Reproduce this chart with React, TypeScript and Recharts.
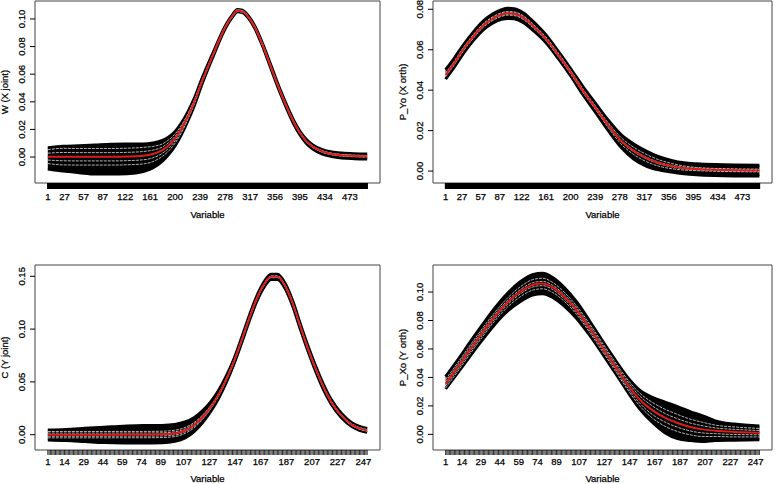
import React from 'react'
import { ComposedChart, Area, Line, XAxis, YAxis, ReferenceArea } from 'recharts'

const FONT = '"Liberation Sans", Arial, Helvetica, sans-serif'
const RED = '#dd1c1c'

// ---- W (X joint): 500 variables ----
const wVars = [1, 25, 50, 75, 100, 125, 150, 165, 180, 190, 200, 210, 220, 230, 240, 250, 260, 270, 280, 290, 297, 305, 315, 325, 335, 345, 355, 365, 375, 385, 395, 405, 415, 430, 445, 460, 480, 500]
const wMean = [0.0003, 0.0003, 0.0002, 0.0002, 0.0002, 0.0004, 0.001, 0.0022, 0.005, 0.0085, 0.0135, 0.0205, 0.0295, 0.04, 0.0525, 0.064, 0.075, 0.086, 0.0955, 0.1025, 0.106, 0.1055, 0.101, 0.0935, 0.083, 0.071, 0.0585, 0.0465, 0.0355, 0.0255, 0.0175, 0.0115, 0.0075, 0.004, 0.0022, 0.0013, 0.0008, 0.0006]
const wBandUp = [0.0065, 0.0075, 0.008, 0.0085, 0.009, 0.009, 0.0085, 0.008, 0.007, 0.006, 0.005, 0.0042, 0.0034, 0.0027, 0.0022, 0.0018, 0.0014, 0.0011, 0.0009, 0.0008, 0.0008, 0.0008, 0.0008, 0.0009, 0.001, 0.0011, 0.0012, 0.0012, 0.0012, 0.0012, 0.0012, 0.0012, 0.0013, 0.0014, 0.0015, 0.0016, 0.0016, 0.0016]
const wBandDn = [0.009, 0.0105, 0.0115, 0.0125, 0.0125, 0.0125, 0.0115, 0.01, 0.008, 0.0065, 0.0052, 0.004, 0.0032, 0.0026, 0.0021, 0.0017, 0.0014, 0.0011, 0.0009, 0.0008, 0.0008, 0.0008, 0.0008, 0.0009, 0.001, 0.0011, 0.0012, 0.0012, 0.0013, 0.0014, 0.0015, 0.0016, 0.0017, 0.0018, 0.0019, 0.002, 0.002, 0.002]
const wCiOuter = [0.005, 0.006, 0.006, 0.006, 0.006, 0.006, 0.006, 0.0055, 0.0045, 0.004, 0.0033, 0.0027, 0.002, 0.0015, 0.001, 0.0006, 0.0006, 0.0006, 0.0006, 0.0006, 0.0006, 0.0006, 0.0006, 0.0006, 0.0006, 0.0006, 0.0006, 0.0006, 0.0006, 0.0006, 0.0006, 0.0006, 0.0006, 0.0006, 0.0006, 0.0006, 0.0006, 0.0006]
const wCiInner = [0.0025, 0.003, 0.003, 0.003, 0.003, 0.003, 0.003, 0.0028, 0.0023, 0.002, 0.0016, 0.0013, 0.001, 0.0008, 0.0005, 0.0004, 0.0004, 0.0004, 0.0004, 0.0004, 0.0004, 0.0004, 0.0004, 0.0004, 0.0004, 0.0004, 0.0004, 0.0004, 0.0004, 0.0004, 0.0004, 0.0004, 0.0004, 0.0004, 0.0004, 0.0004, 0.0004, 0.0004]

// ---- P_Yo (X orth): 500 variables ----
const pyVars = [1, 15, 30, 45, 60, 75, 90, 100, 110, 125, 140, 160, 180, 200, 220, 240, 260, 280, 300, 320, 340, 360, 380, 400, 430, 460, 500]
const pyMean = [0.0475, 0.0535, 0.0605, 0.0665, 0.0717, 0.0752, 0.0774, 0.078, 0.0778, 0.0758, 0.0718, 0.0656, 0.0575, 0.0488, 0.0395, 0.031, 0.0225, 0.015, 0.01, 0.0065, 0.004, 0.0025, 0.0015, 0.001, 0.0006, 0.0004, 0.0003]
const pyBandUp = [0.0026, 0.0024, 0.0022, 0.0022, 0.0022, 0.0023, 0.0024, 0.0025, 0.0025, 0.0024, 0.0022, 0.0019, 0.0018, 0.0018, 0.002, 0.0022, 0.0025, 0.003, 0.0034, 0.0034, 0.0031, 0.0028, 0.0026, 0.0026, 0.0026, 0.0026, 0.0026]
const pyBandDn = [0.002, 0.002, 0.002, 0.002, 0.0021, 0.0022, 0.0024, 0.0025, 0.0025, 0.0024, 0.0022, 0.0019, 0.0018, 0.0018, 0.002, 0.0022, 0.0026, 0.0032, 0.004, 0.004, 0.0034, 0.003, 0.0028, 0.0028, 0.0028, 0.0028, 0.0028]
const pyCiOuter = [0.0009, 0.0009, 0.0009, 0.0009, 0.0009, 0.0009, 0.0009, 0.0009, 0.0009, 0.0009, 0.0009, 0.0009, 0.0009, 0.0009, 0.0009, 0.0009, 0.0012, 0.0016, 0.0018, 0.0018, 0.0016, 0.0013, 0.001, 0.0008, 0.0007, 0.0007, 0.0007]
const pyCiInner = [0.0004, 0.0004, 0.0004, 0.0004, 0.0004, 0.0004, 0.0004, 0.0004, 0.0004, 0.0004, 0.0004, 0.0004, 0.0004, 0.0004, 0.0004, 0.0004, 0.0004, 0.0004, 0.0004, 0.0004, 0.0004, 0.0004, 0.0004, 0.0004, 0.0004, 0.0004, 0.0004]

// ---- C (Y joint): 250 variables ----
const cVars = [1, 15, 30, 45, 60, 75, 90, 100, 108, 115, 122, 128, 134, 140, 146, 152, 158, 164, 170, 175, 180, 186, 192, 198, 204, 210, 216, 222, 230, 238, 244, 250]
const cMean = [0, 0, 0, 0, 0.0001, 0.0001, 0.0003, 0.0012, 0.004, 0.009, 0.017, 0.026, 0.0375, 0.052, 0.069, 0.089, 0.11, 0.129, 0.143, 0.1495, 0.1495, 0.141, 0.124, 0.102, 0.081, 0.062, 0.045, 0.031, 0.018, 0.0095, 0.006, 0.004]
const cBandUp = [0.0045, 0.005, 0.006, 0.007, 0.008, 0.0085, 0.0085, 0.0085, 0.008, 0.007, 0.006, 0.005, 0.004, 0.0032, 0.0025, 0.0025, 0.0025, 0.0025, 0.0025, 0.0025, 0.0025, 0.0025, 0.0025, 0.0025, 0.0025, 0.0025, 0.0025, 0.0022, 0.002, 0.0018, 0.0018, 0.0018]
const cBandDn = [0.005, 0.0055, 0.0065, 0.0075, 0.008, 0.008, 0.008, 0.0075, 0.007, 0.006, 0.005, 0.004, 0.0035, 0.003, 0.0025, 0.0025, 0.0025, 0.0025, 0.0025, 0.0025, 0.0025, 0.0025, 0.0025, 0.0025, 0.0025, 0.0025, 0.0025, 0.0022, 0.002, 0.0018, 0.0018, 0.0018]
const cCiOuter = [0.003, 0.003, 0.003, 0.003, 0.003, 0.003, 0.003, 0.003, 0.0028, 0.0025, 0.002, 0.0015, 0.0012, 0.001, 0.0008, 0.0008, 0.0008, 0.0008, 0.0008, 0.0008, 0.0008, 0.0008, 0.0008, 0.0008, 0.0008, 0.0008, 0.0008, 0.0008, 0.0008, 0.0008, 0.0008, 0.0008]
const cCiInner = [0.0015, 0.0015, 0.0015, 0.0015, 0.0015, 0.0015, 0.0015, 0.0015, 0.0013, 0.0012, 0.001, 0.0008, 0.0006, 0.0006, 0.0006, 0.0006, 0.0006, 0.0006, 0.0006, 0.0006, 0.0006, 0.0006, 0.0006, 0.0006, 0.0006, 0.0006, 0.0006, 0.0006, 0.0006, 0.0006, 0.0006, 0.0006]

// ---- P_Xo (Y orth): 250 variables ----
const pxVars = [1, 10, 20, 30, 40, 50, 60, 70, 78, 86, 95, 105, 115, 125, 135, 145, 155, 165, 175, 185, 195, 205, 215, 230, 250]
const pxMean = [0.0356, 0.0465, 0.059, 0.0712, 0.0827, 0.0925, 0.1, 0.105, 0.106, 0.1032, 0.0968, 0.0872, 0.075, 0.0618, 0.0485, 0.0355, 0.0245, 0.017, 0.0117, 0.008, 0.0052, 0.0035, 0.0025, 0.0017, 0.0012]
const pxBandUp = [0.005, 0.005, 0.0052, 0.0055, 0.006, 0.0065, 0.007, 0.0072, 0.0072, 0.007, 0.0065, 0.0058, 0.005, 0.0045, 0.0045, 0.005, 0.0065, 0.009, 0.011, 0.0115, 0.0108, 0.0095, 0.007, 0.0055, 0.0046]
const pxBandDn = [0.0036, 0.004, 0.0045, 0.005, 0.0055, 0.006, 0.0068, 0.0072, 0.0072, 0.007, 0.0065, 0.0058, 0.005, 0.0045, 0.0045, 0.005, 0.0065, 0.0085, 0.0105, 0.011, 0.0095, 0.0085, 0.0068, 0.0058, 0.005]
const pxCiOuter = [0.003, 0.003, 0.003, 0.003, 0.003, 0.0032, 0.0035, 0.0037, 0.0037, 0.0035, 0.0032, 0.003, 0.003, 0.003, 0.003, 0.0035, 0.0045, 0.0055, 0.006, 0.006, 0.0055, 0.005, 0.004, 0.0035, 0.003]
const pxCiInner = [0.0015, 0.0015, 0.0015, 0.0015, 0.0015, 0.0015, 0.0015, 0.0015, 0.0015, 0.0015, 0.0015, 0.0015, 0.0015, 0.0015, 0.0015, 0.002, 0.0025, 0.003, 0.003, 0.003, 0.0028, 0.0025, 0.002, 0.0018, 0.0015]

// axis labels
const labels500 = [1, 27, 57, 87, 122, 161, 200, 239, 278, 317, 356, 395, 434, 473]
const labels250 = [1, 14, 29, 44, 59, 74, 89, 107, 127, 147, 167, 187, 207, 227, 247]
const wYTicks = [0, 0.02, 0.04, 0.06, 0.08, 0.1]
const pyYTicks = [0, 0.02, 0.04, 0.06, 0.08]
const cYTicks = [0, 0.05, 0.1, 0.15]
const pxYTicks = [0, 0.02, 0.04, 0.06, 0.08, 0.1]

type PanelProps = {
  left: number
  top: number
  width: number
  height: number
  marginTop: number
  marginRight: number
  yAxisWidth: number
  xAxisHeight: number
  tickLen: number
  tickWidth: number
  labelGap: number
  titleY: number
  yLabelX: number
  yLabel: string
  nVars: number
  xDomain: [number, number]
  yDomain: [number, number]
  yTicks: number[]
  xLabels: number[]
  vars: number[]
  mean: number[]
  bandUp: number[]
  bandDn: number[]
  ciOuter: number[]
  ciInner: number[]
}

const textStyle = {
  fontSize: 9.5,
  fontFamily: FONT,
  fill: '#000',
  stroke: '#000',
  strokeWidth: 0.25,
}

function Panel(p: PanelProps) {
  const rows = p.vars.map((v, i) => ({
    v,
    mean: p.mean[i],
    band: [p.mean[i] - p.bandDn[i], p.mean[i] + p.bandUp[i]],
    outHi: p.mean[i] + p.ciOuter[i],
    outLo: p.mean[i] - p.ciOuter[i],
    inHi: p.mean[i] + p.ciInner[i],
    inLo: p.mean[i] - p.ciInner[i],
  }))
  const allTicks = Array.from({ length: p.nVars }, (_, i) => i + 1)
  const labelSet = new Set(p.xLabels)
  const boxLeft = p.yAxisWidth
  const boxRight = p.width - p.marginRight
  const boxTop = p.marginTop
  const boxBottom = p.height - p.xAxisHeight
  const midX = (boxLeft + boxRight) / 2
  const midY = (boxTop + boxBottom) / 2

  const whiteLine = (key: string, w: number) => (
    <Line
      type="monotone"
      dataKey={key}
      stroke="#fff"
      strokeWidth={w}
      strokeDasharray="3 1"
      dot={false}
      activeDot={false}
      isAnimationActive={false}
    />
  )

  return (
    <div style={{ position: 'absolute', left: p.left, top: p.top, width: p.width, height: p.height }}>
      <ComposedChart
        width={p.width}
        height={p.height}
        data={rows}
        margin={{ top: p.marginTop, right: p.marginRight, bottom: 0, left: 0 }}
      >
        <XAxis
          dataKey="v"
          type="number"
          domain={p.xDomain}
          allowDataOverflow
          ticks={allTicks}
          interval={0}
          height={p.xAxisHeight}
          axisLine={false}
          tickSize={p.tickLen}
          tickLine={{ stroke: '#000', strokeWidth: p.tickWidth }}
          tick={(t: any) =>
            labelSet.has(t.payload.value) ? (
              <text x={t.x} y={boxBottom + p.labelGap} textAnchor="middle" {...textStyle}>
                {t.payload.value}
              </text>
            ) : (
              <g />
            )
          }
        />
        <YAxis
          type="number"
          domain={p.yDomain}
          allowDataOverflow
          ticks={p.yTicks}
          interval={0}
          width={p.yAxisWidth}
          axisLine={false}
          tickSize={5}
          tickLine={{ stroke: '#000' }}
          tick={(t: any) => (
            <text
              transform={`translate(${boxLeft - 9.7},${t.y}) rotate(-90)`}
              textAnchor="middle"
              {...textStyle}
            >
              {t.payload.value.toFixed(2)}
            </text>
          )}
        />
        <Area
          type="monotone"
          dataKey="band"
          fill="#000"
          fillOpacity={1}
          stroke="#000"
          strokeWidth={3}
          dot={false}
          activeDot={false}
          isAnimationActive={false}
        />
        {whiteLine('outHi', 0.7)}
        {whiteLine('outLo', 0.7)}
        {whiteLine('inHi', 0.7)}
        {whiteLine('inLo', 0.7)}
        <Line
          type="monotone"
          dataKey="mean"
          stroke={RED}
          strokeWidth={2}
          dot={false}
          activeDot={false}
          isAnimationActive={false}
        />
        <ReferenceArea
          x1={p.xDomain[0]}
          x2={p.xDomain[1]}
          y1={p.yDomain[0]}
          y2={p.yDomain[1]}
          fill="none"
          stroke="#444"
          strokeWidth={1}
          ifOverflow="visible"
        />
      </ComposedChart>
      <svg
        width={p.width}
        height={p.height}
        style={{ position: 'absolute', left: 0, top: 0, pointerEvents: 'none' }}
      >
        <text x={midX} y={p.titleY} textAnchor="middle" {...textStyle}>
          Variable
        </text>
        <text transform={`translate(${p.yLabelX},${midY}) rotate(-90)`} textAnchor="middle" {...textStyle}>
          {p.yLabel}
        </text>
      </svg>
    </div>
  )
}

export default function App() {
  return (
    <div style={{ position: 'relative', width: 778, height: 484, background: '#fff', fontFamily: FONT, overflow: 'hidden' }}>
      <style>{'body{margin:0}'}</style>
      <Panel
        left={0} top={0} width={389} height={242}
        marginTop={1} marginRight={9} yAxisWidth={35} xAxisHeight={59}
        tickLen={6} tickWidth={1.5} labelGap={17.3} titleY={218.3} yLabelX={8.3}
        yLabel="W (X joint)" nVars={500}
        xDomain={[-19, 520]} yDomain={[-0.0188, 0.113]}
        yTicks={wYTicks} xLabels={labels500}
        vars={wVars} mean={wMean} bandUp={wBandUp} bandDn={wBandDn}
        ciOuter={wCiOuter} ciInner={wCiInner}
      />
      <Panel
        left={389} top={0} width={389} height={242}
        marginTop={1} marginRight={6} yAxisWidth={44} xAxisHeight={59}
        tickLen={6} tickWidth={1.5} labelGap={17.3} titleY={218.3} yLabelX={17.3}
        yLabel="P_Yo (X orth)" nVars={500}
        xDomain={[-19, 520]} yDomain={[-0.0059, 0.0841]}
        yTicks={pyYTicks} xLabels={labels500}
        vars={pyVars} mean={pyMean} bandUp={pyBandUp} bandDn={pyBandDn}
        ciOuter={pyCiOuter} ciInner={pyCiInner}
      />
      <Panel
        left={0} top={242} width={389} height={242}
        marginTop={23} marginRight={9} yAxisWidth={35} xAxisHeight={34}
        tickLen={5} tickWidth={0.8} labelGap={15.3} titleY={240} yLabelX={8.3}
        yLabel="C (Y joint)" nVars={250}
        xDomain={[-9, 260]} yDomain={[-0.0145, 0.1607]}
        yTicks={cYTicks} xLabels={labels250}
        vars={cVars} mean={cMean} bandUp={cBandUp} bandDn={cBandDn}
        ciOuter={cCiOuter} ciInner={cCiInner}
      />
      <Panel
        left={389} top={242} width={389} height={242}
        marginTop={23} marginRight={6} yAxisWidth={44} xAxisHeight={34}
        tickLen={5} tickWidth={0.8} labelGap={15.3} titleY={240} yLabelX={17.3}
        yLabel="P_Xo (Y orth)" nVars={250}
        xDomain={[-9, 260]} yDomain={[-0.011, 0.119]}
        yTicks={pxYTicks} xLabels={labels250}
        vars={pxVars} mean={pxMean} bandUp={pxBandUp} bandDn={pxBandDn}
        ciOuter={pxCiOuter} ciInner={pxCiInner}
      />
    </div>
  )
}
